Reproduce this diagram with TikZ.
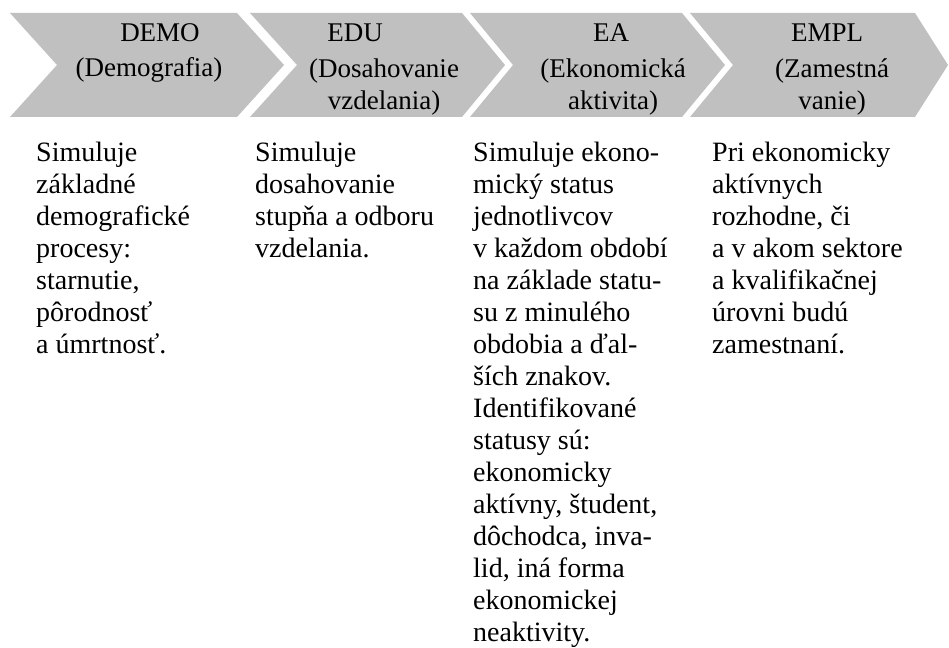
\documentclass[tikz,border=0pt]{standalone}
\usepackage{fontspec}
\setmainfont{Liberation Serif}
\definecolor{chev}{RGB}{192,192,192}
\begin{document}
\begin{tikzpicture}[x=1pt,y=-1pt,
  chevron/.style={fill=chev,draw=none},
  head/.style={inner sep=0pt,font=\fontsize{27}{32}\selectfont,align=center},
  body/.style={inner sep=0pt,anchor=north west,align=left,font=\fontsize{28}{32}\selectfont}]
\useasboundingbox (0,0) rectangle (949,647);
% chevrons
\fill[chevron] (10,13) -- (237,13) -- (284,65) -- (237,117) -- (10,117) -- (57,65) -- cycle;
\fill[chevron] (250,13) -- (462,13) -- (505,65) -- (462,117) -- (250,117) -- (297,65) -- cycle;
\fill[chevron] (470,13) -- (682,13) -- (725,65) -- (682,117) -- (470,117) -- (513,65) -- cycle;
\fill[chevron] (690,13) -- (915,13) -- (948,65) -- (915,117) -- (690,117) -- (733,65) -- cycle;
% headers
\node[head,anchor=base] (demoT) at (160,42) {DEMO};
\node[head,anchor=north] (demoS) at (149,54) {\rule{0pt}{22pt}(Demografia)};
\node[head,anchor=base] (eduT) at (355,42) {EDU};
\node[head,anchor=north] (eduS) at (384,55) {\rule{0pt}{22pt}(Dosahovanie\\vzdelania)};
\node[head,anchor=base] (eaT) at (611,42) {EA};
\node[head,anchor=north] (eaS) at (613,55) {\rule{0pt}{22pt}(Ekonomická\\aktivita)};
\node[head,anchor=base] (emplT) at (827,42) {EMPL};
\node[head,anchor=north] (emplS) at (832,55) {\rule{0pt}{22pt}(Zamestná\\vanie)};
% bodies
\node[body] (demoB) at (36,139) {\rule{0pt}{22pt}Simuluje\\základné\\demografické\\procesy:\\starnutie,\\pôrodnosť\\a úmrtnosť.};
\node[body] (eduB) at (255,139) {\rule{0pt}{22pt}Simuluje\\dosahovanie\\stupňa a odboru\\vzdelania.};
\node[body] (eaB) at (473,139) {\rule{0pt}{22pt}Simuluje ekono-\\mický status\\jednotlivcov\\v každom období\\na základe statu-\\su z minulého\\obdobia a ďal-\\ších znakov.\\Identifikované\\statusy sú:\\ekonomicky\\aktívny, študent,\\dôchodca, inva-\\lid, iná forma\\ekonomickej\\neaktivity.};
\node[body] (emplB) at (712,139) {\rule{0pt}{22pt}Pri ekonomicky\\aktívnych\\rozhodne, či\\a v akom sektore\\a kvalifikačnej\\úrovni budú\\zamestnaní.};
\end{tikzpicture}
\end{document}
